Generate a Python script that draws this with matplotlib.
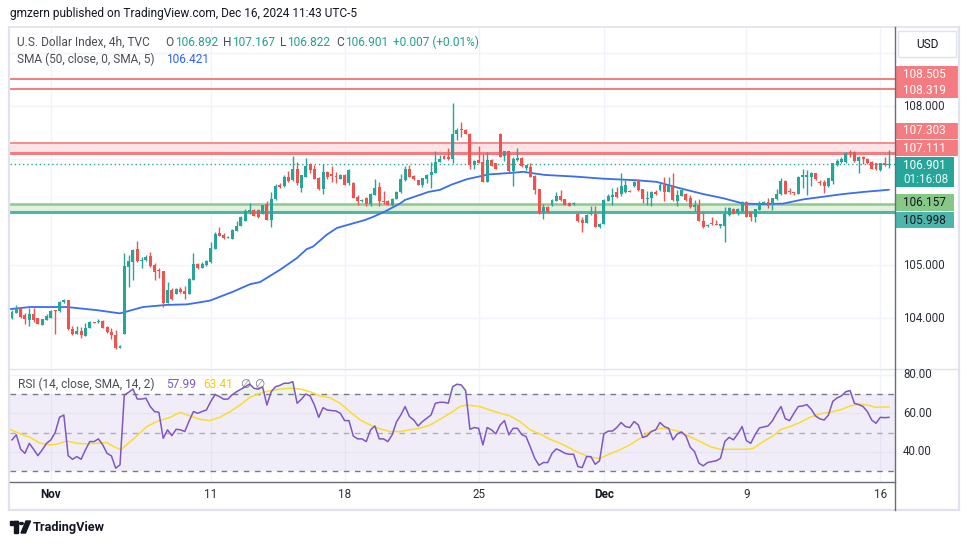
import matplotlib
matplotlib.use("Agg")
import matplotlib.pyplot as plt
import numpy as np
from matplotlib.patches import Rectangle, Circle, Polygon
from matplotlib.lines import Line2D
import matplotlib.transforms as mtrans

plt.rcParams['font.family'] = ['Roboto', 'DejaVu Sans']

# ---------------- data ----------------
opens = [104.01,104.10,104.20,104.06,103.96,104.07,104.00,103.88,103.97,104.01,104.16,104.13,104.30,104.34,103.80,103.71,103.76,103.67,103.82,103.92,103.93,103.95,103.84,103.74,103.69,103.44,103.70,104.97,105.06,105.30,105.07,105.10,105.17,105.00,104.90,104.89,104.29,104.53,104.45,104.55,104.52,104.46,104.72,105.03,104.95,105.00,105.06,105.30,105.60,105.57,105.52,
         105.50,105.65,105.74,105.84,106.00,106.04,106.04,105.97,106.15,105.86,106.24,106.51,106.49,106.67,106.60,106.81,106.46,106.67,106.90,106.81,106.65,106.43,106.76,106.72,106.68,106.63,106.70,106.54,
         106.55,106.28,106.20,106.27,106.15,106.33,106.47,106.21,106.21,106.13,106.25,106.37,106.60,106.81,106.68,106.60,106.51,106.63,106.69,106.74,106.95,107.06,107.03,107.01,107.47,107.57,107.55,107.48,106.89,106.98,106.95,106.57,106.98,106.92,107.48,107.06,107.15,106.77,106.98,107.02,106.84,106.85,106.68,106.43,106.00,106.10,106.13,106.21,106.31,106.24,106.18,106.15,
         105.97,105.86,105.80,105.96,105.96,105.72,105.77,106.21,106.29,106.37,106.35,106.38,106.40,106.49,106.60,106.43,106.25,106.26,106.38,106.42,106.52,106.38,106.49,106.21,106.31,106.35,106.26,106.10,106.13,105.84,105.74,105.79,105.78,105.74,105.73,105.94,106.06,105.98,106.02,106.19,106.00,105.91,106.04,106.16,106.19,106.13,106.24,106.34,106.59,106.40,106.38,106.35,106.66,106.66,106.67,106.73,106.57,106.57,106.49,106.59,106.89,106.94,106.94,107.13,107.14,106.96,107.03,107.01,106.95,106.92,106.79,106.92,106.892]
highs = [104.16,104.25,104.20,104.09,104.20,104.20,104.01,103.99,104.08,104.16,104.16,104.33,104.36,104.35,103.85,103.85,103.84,103.91,103.95,103.93,103.98,103.97,103.85,103.82,103.78,103.50,105.22,105.20,105.31,105.46,105.16,105.20,105.25,105.04,104.94,104.89,104.68,104.57,104.56,104.59,104.60,104.75,105.23,105.04,105.05,105.09,105.43,105.62,105.72,105.60,105.54,
         105.69,105.83,105.93,106.05,106.18,106.06,106.06,106.14,106.20,106.37,106.53,106.55,106.69,106.77,107.06,106.95,106.70,107.02,106.93,106.89,106.67,106.90,106.77,106.86,106.75,106.72,106.71,106.82,
         106.56,106.33,106.25,106.28,106.36,106.62,106.56,106.40,106.22,106.26,106.40,106.71,106.86,106.89,106.70,106.61,106.65,106.71,106.95,107.15,107.08,107.08,107.20,108.06,107.58,107.69,107.56,107.49,106.98,107.25,107.10,107.13,107.00,106.93,107.49,107.16,107.16,107.04,107.20,107.03,106.89,106.92,106.69,106.44,106.16,106.11,106.25,106.38,106.42,106.25,106.19,106.19,
         105.99,105.90,105.96,106.11,106.11,105.79,106.24,106.35,106.45,106.47,106.73,106.60,106.41,106.59,106.62,106.43,106.40,106.40,106.41,106.54,106.67,106.67,106.73,106.415,106.45,106.36,106.32,106.23,106.24,106.00,105.77,105.90,105.86,105.78,106.09,106.10,106.07,106.07,106.21,106.21,106.01,106.06,106.21,106.21,106.26,106.27,106.43,106.65,106.60,106.45,106.38,106.68,106.82,106.79,106.76,106.74,106.60,106.60,106.65,106.93,107.01,107.03,107.13,107.18,107.15,107.06,107.06,107.02,106.96,106.93,106.93,107.04,107.167]
lows = [103.99,104.09,104.01,103.89,103.86,103.93,103.89,103.87,103.97,104.00,103.71,104.12,104.29,103.78,103.69,103.70,103.62,103.66,103.82,103.90,103.91,103.81,103.72,103.60,103.42,103.43,103.70,104.59,104.72,105.06,104.95,105.08,104.97,104.72,104.75,104.21,104.28,104.35,104.45,104.47,104.36,104.45,104.71,104.93,104.94,104.98,105.04,105.30,105.54,105.50,105.51,
        105.49,105.64,105.73,105.83,105.96,105.92,105.89,105.96,105.85,105.72,106.23,106.46,106.48,106.57,106.59,106.52,106.38,106.66,106.74,106.62,106.42,106.35,106.63,106.56,106.54,106.62,106.51,106.52,
        106.265,106.13,106.19,106.12,106.12,106.32,106.12,106.16,106.13,106.12,106.24,106.36,106.59,106.66,106.60,106.51,106.47,106.54,106.46,106.73,106.94,107.00,106.98,106.93,107.36,107.42,107.47,106.81,106.81,106.92,106.56,106.56,106.86,106.81,107.03,106.96,106.75,106.50,106.97,106.85,106.80,106.66,106.35,105.96,105.87,105.99,106.12,106.20,106.20,106.13,106.11,106.14,
        105.82,105.63,105.79,105.95,105.71,105.70,105.77,106.20,106.13,106.26,106.31,106.36,106.37,106.48,106.40,106.18,106.13,106.12,106.32,106.40,106.21,106.37,106.20,106.11,106.30,106.21,106.075,106.025,105.83,105.70,105.72,105.75,105.75,105.70,105.44,105.92,105.96,105.94,106.01,105.90,105.84,105.82,106.03,106.15,106.07,106.04,106.23,106.33,106.34,106.35,106.32,106.34,106.45,106.33,106.49,106.61,106.52,106.36,106.48,106.53,106.87,106.93,106.93,107.04,106.95,106.73,106.91,106.91,106.81,106.80,106.77,106.87,106.822]
closes = [104.12,104.20,104.03,103.98,104.07,103.97,103.89,103.98,104.04,104.14,104.14,104.30,104.35,103.79,103.71,103.76,103.69,103.82,103.92,103.91,103.95,103.82,103.73,103.69,103.44,103.48,104.98,105.08,105.29,105.07,105.10,105.15,104.99,104.87,104.88,104.29,104.53,104.37,104.55,104.49,104.45,104.73,105.03,104.95,105.03,105.07,105.32,105.58,105.55,105.51,105.53,
          105.67,105.74,105.91,106.02,106.03,105.93,105.91,106.13,105.86,106.25,106.50,106.47,106.67,106.59,106.81,106.54,106.70,106.87,106.79,106.63,106.43,106.76,106.67,106.68,106.66,106.70,106.52,106.80,
          106.27,106.20,106.23,106.15,106.34,106.45,106.20,106.19,106.13,106.25,106.38,106.62,106.81,106.67,106.62,106.52,106.64,106.70,106.75,106.95,107.01,107.01,107.01,107.48,107.55,107.55,107.48,106.89,106.96,106.93,106.57,106.98,106.87,106.82,107.04,107.15,106.77,107.00,107.02,106.86,106.88,106.67,106.42,105.99,106.10,106.00,106.23,106.30,106.22,106.14,106.12,106.18,
          105.84,105.80,105.94,105.99,105.72,105.78,106.23,106.31,106.33,106.29,106.49,106.51,106.38,106.57,106.41,106.245,106.27,106.38,106.34,106.52,106.38,106.51,106.22,106.32,106.41,106.23,106.09,106.13,105.84,105.71,105.75,105.77,105.76,105.77,105.97,106.07,105.97,106.06,106.19,105.91,105.90,106.05,106.16,106.19,106.12,106.26,106.35,106.59,106.35,106.38,106.36,106.67,106.69,106.70,106.73,106.62,106.54,106.49,106.64,106.92,106.96,107.01,107.12,107.11,106.96,107.04,107.00,106.93,106.82,106.81,106.92,106.89,106.901]

# last-bar change vs previous close, as printed in the legend
last_change = 0.007
last_change_pct = 0.01

# SMA(50): bar position, value
sma_bars = [-0.5, 4.2, 12.7, 19.7, 25.0, 30.3, 35.9, 40.5, 45.8, 51.2, 55.1, 57.4, 62.0, 65.9, 68.2, 69.7, 72.8, 75.2, 78.2, 81.7, 83.6, 86.3, 89.8, 91.0, 96.4, 99.1, 101.8, 105.3, 106.4, 110.3, 115.7, 118.4, 119.9, 123.4, 130.3, 136.8, 144.6, 149.2, 154.6, 160.0, 164.7, 169.3, 173.9, 178.5, 183.2, 187.8, 192.4, 197.1, 203.0]
sma_vals = [104.17, 104.21, 104.21, 104.15, 104.09, 104.21, 104.25, 104.26, 104.33, 104.50, 104.64, 104.68, 104.91, 105.13, 105.30, 105.35, 105.57, 105.70, 105.77, 105.85, 105.91, 106.01, 106.16, 106.23, 106.38, 106.42, 106.52, 106.62, 106.64, 106.71, 106.74, 106.76, 106.74, 106.70, 106.67, 106.63, 106.60, 106.57, 106.45, 106.34, 106.26, 106.16, 106.15, 106.16, 106.24, 106.29, 106.34, 106.38, 106.421]

rsi_vals = [46.3, 48.9, 41.4, 39.3, 44.5, 41.4, 38.1, 41.1, 44.5, 46.3,
            50.1, 58.0, 59.2, 38.1, 36.2, 37.6, 36.2, 41.1, 45.4, 45.4,
            46.8, 43.7, 39.3, 38.0, 31.6, 33.3, 69.6, 71.0, 72.7, 67.5,
            67.5, 67.9, 63.6, 61.0, 60.6, 47.1, 51.5, 48.5, 51.8, 51.5,
            50.6, 56.1, 61.0, 60.1, 61.0, 61.8, 66.2, 69.8, 68.8, 67.4,
            67.5, 69.8, 71.3, 72.6, 73.9, 75.3, 73.1, 72.6, 73.9, 64.4,
            71.3, 73.9, 74.6, 75.7, 75.7, 76.5, 65.3, 67.4, 70.1, 69.1,
            64.4, 58.0, 63.0, 61.8, 61.5, 61.3, 60.1, 56.3, 56.3, 48.3,
            46.8, 46.8, 45.4, 51.5, 53.5, 46.8, 46.8, 45.4, 48.9, 55.6,
            59.2, 63.6, 58.4, 56.6, 53.5, 55.8, 57.5, 59.2, 65.3, 65.8,
            65.8, 65.3, 73.9, 75.2, 74.8, 71.9, 51.8, 52.7, 52.3, 43.7,
            52.7, 51.5, 49.4, 54.0, 56.3, 48.9, 52.3, 52.3, 49.0, 48.0,
            42.5, 36.7, 33.1, 34.5, 34.5, 39.3, 41.6, 40.6, 39.3, 38.8,
            38.8, 32.4, 31.9, 37.6, 37.6, 33.6, 35.4, 49.4, 50.8, 50.9,
            52.7, 55.3, 53.2, 52.7, 55.8, 54.0, 47.5, 48.3, 50.6, 51.5,
            55.3, 53.2, 52.3, 46.3, 49.4, 50.4, 48.3, 42.5, 40.2, 34.2,
            32.8, 34.5, 35.0, 35.4, 36.7, 45.4, 47.6, 46.3, 49.4, 53.2,
            45.9, 44.5, 48.9, 52.5, 53.0, 53.5, 56.1, 60.1, 63.6, 57.3,
            56.3, 60.1, 63.6, 63.9, 64.6, 62.2, 58.7, 57.2, 56.6, 59.2,
            66.3, 68.1, 69.1, 71.3, 71.9, 65.3, 64.6, 63.6, 61.0, 56.6,
            54.9, 58.0, 57.8, 57.99]

rsi_sma_bars = [-0.5, 1.9, 4.2, 6.5, 8.8, 10.3, 12.7, 15.0, 17.3, 19.6, 21.9, 23.8, 25.2, 26.5, 28.9, 31.2, 33.5, 36.6, 38.9, 41.2, 43.5, 45.8, 48.1, 50.5, 52.8, 55.1, 57.4, 59.7, 62.0, 64.4, 66.7, 69.0, 71.3, 73.6, 75.9, 78.2, 80.6, 82.9, 85.2, 87.5, 89.8, 92.1, 94.4, 96.8, 99.1, 101.4, 103.7, 105.2, 108.3, 110.6,
                113.0, 115.3, 117.6, 119.9, 122.2, 124.5, 126.9, 129.2, 131.5, 133.8, 136.1, 138.4, 140.7, 143.0, 145.4, 147.7, 150.0, 152.3, 154.6, 156.9, 159.3, 161.6, 163.9, 167.0, 170.1, 171.6, 173.9, 176.2, 177.8, 180.1, 182.4, 184.7, 187.0, 189.3, 191.7, 194.0, 196.3, 198.6, 199.8, 203.0]
rsi_sma_vals = [51.8, 49.4, 47.6, 44.5, 43.7, 44.0, 45.7, 44.5, 44.2, 44.5, 44.9, 42.5, 41.1, 43.7, 48.3, 53.2, 55.8, 58.0, 60.6, 58.7, 57.0, 56.3, 58.0, 61.0, 64.4, 68.4, 70.5, 71.9, 72.6, 73.1, 72.7, 71.3, 69.1, 68.2, 65.3, 61.0, 56.6, 54.0, 52.0, 50.6, 50.6, 51.5, 52.3, 54.0, 57.0, 60.1, 63.6, 64.4, 63.6, 61.8,
                60.1, 58.7, 55.8, 51.5, 49.4, 46.6, 44.5, 41.9, 39.3, 37.3, 36.7, 39.0, 41.1, 43.7, 47.1, 50.6, 52.3, 51.8, 50.6, 48.0, 45.4, 42.8, 41.4, 41.4, 41.4, 41.9, 45.4, 48.3, 51.5, 53.2, 55.3, 58.0, 59.8, 60.6, 61.8, 63.9, 64.9, 64.1, 63.2, 63.41]

tick_bars = [9, 46, 77, 108, 137, 170, 201]
tick_labels = ['Nov', '11', '18', '25', 'Dec', '9', '16']

resist_lines = [108.505, 108.319]
resist_zone = [107.303, 107.111]
support_zone = [106.157, 106.128, 105.998]
last_price = 106.901
countdown = '01:16:08'
sma_last = 106.421
rsi_last = 57.99
rsi_sma_last = 63.41
price_axis_vals = [108.0, 105.0, 104.0]
rsi_axis_vals = [80, 60, 40]

# ---------------- figure ----------------
W, H = 970, 545
fig = plt.figure(figsize=(W / 100, H / 100), dpi=100)
fig.patch.set_facecolor('white')

def fx(px):
    return px / W

def fy(py):
    return 1 - py / H

BAR_PX = 4.32
X0_PX = 12
L_PX, R_PX = 10, 895
xl = ((L_PX - X0_PX) / BAR_PX, (R_PX - X0_PX) / BAR_PX)

ax = fig.add_axes([fx(L_PX), fy(368), (R_PX - L_PX) / W, (368 - 27) / H])
axr = fig.add_axes([fx(L_PX), fy(482), (R_PX - L_PX) / W, (482 - 369) / H])
for a in (ax, axr):
    a.set_xlim(*xl)
    a.set_xticks([]); a.set_yticks([])
    for s in a.spines.values():
        s.set_visible(False)
    a.set_facecolor('white')
ax.set_ylim(103.06, 109.49)
axr.set_ylim(24.4, 83.1)

GRID = '#f0f3fa'
for a in (ax, axr):
    for tb in tick_bars:
        a.axvline(tb, color=GRID, lw=1, zorder=0)
for v in range(104, 110):
    ax.axhline(v, color=GRID, lw=1, zorder=0)
for v in rsi_axis_vals:
    axr.axhline(v, color=GRID, lw=1, zorder=0)

# levels
RED = '#f47c80'
for v in resist_lines:
    ax.axhline(v, color=RED, lw=1.4, zorder=2)
ax.axhspan(resist_zone[1], resist_zone[0], color='#fde4e6', lw=0, zorder=1)
ax.axhline(resist_zone[0], color=RED, lw=1.2, zorder=2)
ax.axhline(resist_zone[1], color=RED, lw=2.2, zorder=2)
ax.axhspan(support_zone[2], support_zone[1], color='#e1f1dd', lw=0, zorder=1)
ax.axhline(support_zone[0], color='#8cc98a', lw=1.1, zorder=2)
ax.axhline(support_zone[1], color='#8cc98a', lw=1.1, zorder=2)
ax.axhline(support_zone[2], color='#4db6ac', lw=2.2, zorder=2)
ax.axhline(last_price, color='#26a69a', lw=1, linestyle=(0, (1, 2)), zorder=2)

# candles
o = np.array(opens); h = np.array(highs); l = np.array(lows); c = np.array(closes)
n = len(c)
x = np.arange(n)
up = c >= o
cols = np.where(up, '#26a69a', '#ef5350')
ax.vlines(x, l, h, colors=cols, lw=1, zorder=4)
bot = np.minimum(o, c)
hgt = np.maximum(np.abs(c - o), 0.015)
ax.bar(x, hgt, bottom=bot, width=0.68, color=cols, lw=0, zorder=5)

# SMA
ax.plot(sma_bars, sma_vals, color='#3a6cf4', lw=1.3, zorder=3, solid_capstyle='round')

# RSI pane
axr.axhspan(30, 70, color='#7e57c2', alpha=0.1, lw=0, zorder=1)
for v, al in ((70, 1.0), (50, 0.55), (30, 1.0)):
    axr.axhline(v, color='#787b86', lw=1, alpha=al, dashes=(4, 4), zorder=2)
r = np.array(rsi_vals)
xr = np.arange(len(r))
axr.fill_between(xr, 70, r, where=r > 70, interpolate=True, color='#4caf50', alpha=0.12, lw=0, zorder=2)
axr.fill_between(xr, 30, r, where=r < 30, interpolate=True, color='#f23645', alpha=0.12, lw=0, zorder=2)
axr.plot(rsi_sma_bars, rsi_sma_vals, color='#fbdc2e', lw=1.1, zorder=3)
axr.plot(xr, r, color='#7e57c2', lw=1.1, zorder=4)

# ---------------- frame lines ----------------
def fline(x0, y0, x1, y1, color, lw):
    fig.add_artist(Line2D([fx(x0), fx(x1)], [fy(y0), fy(y1)], color=color, lw=lw, transform=fig.transFigure))

FRAME = '#e0e3eb'
fline(9.5, 26.5, 959, 26.5, FRAME, 1.2)
fline(9.5, 26.5, 9.5, 509.5, FRAME, 1.6)
fline(9.5, 509.5, 959, 509.5, FRAME, 1.6)
fline(959, 26.5, 959, 509.5, FRAME, 1.6)
fline(9.5, 368.5, 959, 368.5, FRAME, 1.0)
fline(895, 27, 895, 510, '#6a6d78', 1.0)
fline(10, 482, 895, 482, '#6a6d78', 1.0)

# ---------------- texts ----------------
def T(xp, yp, s, color='#131722', size=8.2, ha='left', weight='normal', **kw):
    return fig.text(fx(xp), fy(yp), s, color=color, fontsize=size, ha=ha, va='center', weight=weight, **kw)

T(10, 14, 'gmzern published on TradingView.com, Dec 16, 2024 11:43 UTC-5', size=8.6)

GR = '#4a4d57'
TEAL = '#22a08f'
T(17, 42, 'U.S. Dollar Index, 4h, TVC', GR, 8.6)
for lab, xv, val, xl_ in (('O', 165.7, opens[-1], 175), ('H', 222.7, highs[-1], 231.7),
                          ('L', 280, lows[-1], 287.3), ('C', 336.7, closes[-1], 345)):
    T(xv, 42, lab, GR, 8.6)
    T(xl_, 42, '%.3f' % val, TEAL, 8.6)
T(393.3, 42, '%+.3f (%+.2f%%)' % (last_change, last_change_pct), TEAL, 8.6)
T(17, 59, 'SMA (50, close, 0, SMA, 5)', GR, 8.6)
T(165.7, 59, '%.3f' % sma_last, '#2962ff', 8.6)
T(18, 384, 'RSI (14, close, SMA, 14, 2)', GR, 8.6)
T(166, 384, '%.2f' % rsi_last, '#7e57c2', 8.6)
T(203, 384, '%.2f' % rsi_sma_last, '#f2c81c', 8.6)
T(240, 384, '\u2205', '#787b86', 8.6)
T(254, 384, '\u2205', '#787b86', 8.6)

# time axis labels
bt = mtrans.blended_transform_factory(axr.transData, fig.transFigure)
for tb, tl in zip(tick_bars, tick_labels):
    bold = tl.isalpha()
    fig.text(tb, fy(494), tl, transform=bt, ha='center', va='center', fontsize=8.4,
             color='#131722' if bold else '#2a2e39', weight='bold' if bold else 'normal')

# price axis
def py(v, a=ax):
    return H - a.transData.transform((0, v))[1]

for v in price_axis_vals:
    T(903, py(v), '%.3f' % v, '#2a2e39', 8.3)
for v in rsi_axis_vals:
    T(903, py(v, axr), '%.2f' % v, '#2a2e39', 8.3)

def rect(x0, y0, x1, y1, color, ec='none', lw=0):
    fig.add_artist(Rectangle((fx(x0), fy(y1)), (x1 - x0) / W, (y1 - y0) / H, transform=fig.transFigure,
                             facecolor=color, edgecolor=ec, lw=lw))

labels = [(resist_lines[0], -5, RED, 'white'), (resist_lines[1], 1, RED, 'white'),
          (resist_zone[0], -12, RED, 'white'), (resist_zone[1], -5, RED, 'white'),
          (support_zone[0], -1, '#86c986', '#131722'), (support_zone[2], 8, '#4db6ac', '#131722')]
for v, dy, bg, fg in labels:
    yc = py(v) + dy
    rect(896, yc - 8.3, 958 if bg == RED else 954, yc + 8.3, bg)
    T(903, yc, '%.3f' % v, fg, 8.5)
yc = py(last_price) + 1
rect(896, yc - 8.3, 954, yc + 22, '#26a69a')
T(903, yc, '%.3f' % last_price, 'white', 8.5)
T(903, yc + 14, countdown, '#e6f6f4', 8.5)

# USD box
rect(898, 31, 956, 57, 'white', ec='#e0e3eb', lw=1)
T(927, 44, 'USD', '#131722', 8.6, ha='center')

# footer logo
fig.add_artist(Rectangle((fx(10), fy(525)), 8 / W, 4 / H, transform=fig.transFigure, color='#131722'))
fig.add_artist(Rectangle((fx(14), fy(533)), 4 / W, 12 / H, transform=fig.transFigure, color='#131722'))
fig.add_artist(Circle((fx(21.5), fy(523.5)), 1.8 / W, transform=fig.transFigure, color='#131722'))
fig.add_artist(Polygon([(fx(21), fy(533)), (fx(26), fy(521)), (fx(30.5), fy(521)), (fx(25.5), fy(533))],
                       closed=True, transform=fig.transFigure, color='#131722'))
T(33, 527, 'TradingView', '#131722', 9.2, weight='bold')

fig.savefig('out.png', dpi=100, facecolor='white')
